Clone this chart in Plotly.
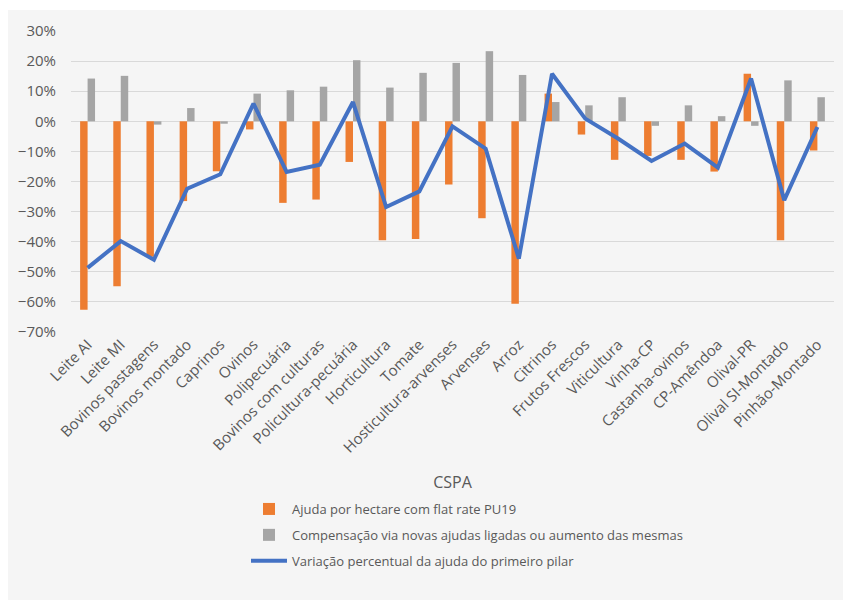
import plotly.graph_objects as go

categories = ["Leite AI", "Leite MI", "Bovinos pastagens", "Bovinos montado", "Caprinos",
              "Ovinos", "Polipecuária", "Bovinos com culturas", "Policultura-pecuária",
              "Horticultura", "Tomate", "Hosticultura-arvenses", "Arvenses", "Arroz",
              "Citrinos", "Frutos Frescos", "Viticultura", "Vinha-CP", "Castanha-ovinos",
              "CP-Amêndoa", "Olival-PR", "Olival SI-Montado", "Pinhão-Montado"]

ajuda_flat = [-0.626, -0.548, -0.450, -0.265, -0.166, -0.027, -0.271, -0.260, -0.135,
              -0.395, -0.391, -0.210, -0.322, -0.606, 0.092, -0.044, -0.128, -0.115,
              -0.128, -0.167, 0.158, -0.395, -0.097]

compensacao = [0.142, 0.151, -0.011, 0.044, -0.008, 0.092, 0.103, 0.115, 0.203,
               0.112, 0.161, 0.194, 0.233, 0.154, 0.064, 0.053, 0.080, -0.015,
               0.053, 0.017, -0.015, 0.136, 0.080]

variacao = [-0.487, -0.398, -0.460, -0.224, -0.176, 0.059, -0.168, -0.144, 0.064,
            -0.285, -0.233, -0.017, -0.091, -0.456, 0.158, 0.009, -0.058, -0.132,
            -0.074, -0.154, 0.142, -0.262, -0.019]

series_names = ["Ajuda por hectare com flat rate PU19",
                "Compensação via novas ajudas ligadas ou aumento das mesmas",
                "Variação percentual da ajuda do primeiro pilar"]

text_color = "#595959"
font_family = "Open Sans, Noto Sans, sans-serif"

fig = go.Figure()
fig.add_trace(go.Bar(x=categories, y=ajuda_flat, name=series_names[0],
                     marker=dict(color="#ED7D31", line=dict(width=0)),
                     legendgroup="a"))
fig.add_trace(go.Bar(x=categories, y=compensacao, name=series_names[1],
                     marker=dict(color="#A5A5A5", line=dict(width=0)),
                     legendgroup="b"))
fig.add_trace(go.Scatter(x=categories, y=variacao, name=series_names[2], mode="lines",
                         line=dict(color="#4472C4", width=4),
                         legendgroup="c"))

W, H = 843, 600
ml, mr, mt, mb = 71, 9, 31, 268
pw = W - ml - mr
ph = H - mt - mb

def px2paper_x(px):
    return (px - ml) / pw

def px2paper_y(py):
    return (H - mb - py) / ph

fig.add_shape(type="rect", xref="paper", yref="paper",
              x0=px2paper_x(8), x1=px2paper_x(843), y0=px2paper_y(600), y1=px2paper_y(10),
              fillcolor="#F5F5F5", line=dict(width=0), layer="below")

fig.update_layout(
    width=W, height=H,
    margin=dict(l=ml, r=mr, t=mt, b=mb),
    paper_bgcolor="white",
    plot_bgcolor="rgba(0,0,0,0)",
    barmode="group",
    bargap=0.55,
    bargroupgap=0,
    font=dict(family=font_family, size=13, color=text_color),
    legend=dict(orientation="v", x=px2paper_x(246), y=px2paper_y(494),
                xanchor="left", yanchor="top", bgcolor="rgba(0,0,0,0)",
                font=dict(size=13, color=text_color), tracegroupgap=6,
                itemwidth=36),
    showlegend=True,
)

fig.update_xaxes(
    tickangle=-45,
    showgrid=False,
    showline=False,
    ticks="",
    tickfont=dict(size=15, color=text_color),
    title=dict(text="CSPA", font=dict(size=16, color=text_color), standoff=21),
)

fig.update_yaxes(
    range=[-0.7, 0.3],
    dtick=0.1,
    tick0=0,
    tickformat=".0%",
    showgrid=True,
    gridcolor="#D9D9D9",
    gridwidth=1,
    zeroline=True,
    zerolinecolor="#D9D9D9",
    zerolinewidth=1,
    showline=False,
    ticks="",
    ticklabelstandoff=14,
    tickfont=dict(size=15, color=text_color),
)

fig.write_html("out.html")
